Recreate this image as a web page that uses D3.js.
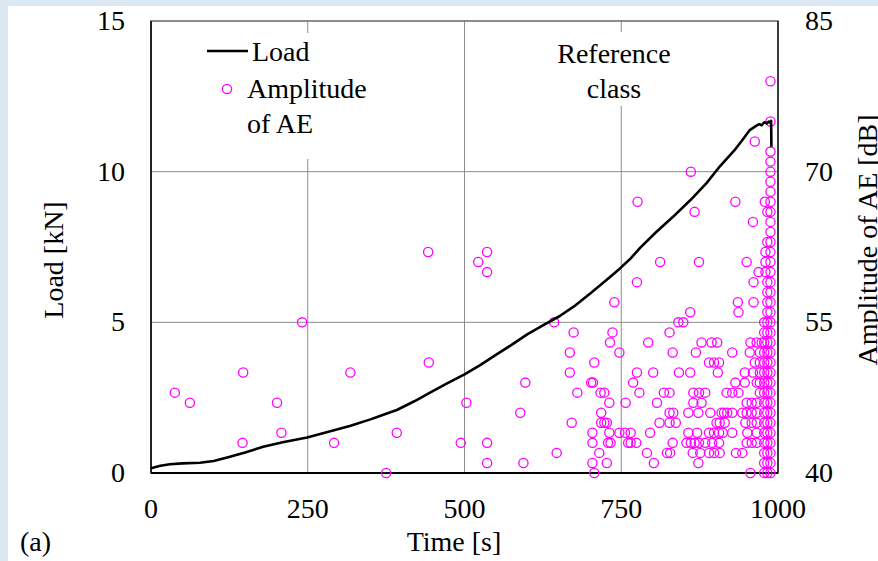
<!DOCTYPE html>
<html lang="en">
<head>
<meta charset="utf-8">
<title>Load and AE amplitude</title>
<script src="https://d3js.org/d3.v7.min.js"></script>
<style>
  body { margin:0; background:#dbe8f4; }
  svg { display:block; }
  text { font-family:"Liberation Serif","Times New Roman",serif; fill:#000; }
</style>
</head>
<body>
<div id="chart"></div>
<script>
// load curve (time [s], load [kN])
var loadTime  = [0, 15, 30, 50, 78, 100, 126, 150, 179, 210, 249, 280, 317, 350, 365, 392, 420, 445, 470, 500,
                 525, 550, 575, 600, 625, 652, 674, 700, 725, 748, 765, 780, 805, 833, 860, 886, 907, 931, 945,
                 955, 965, 970, 974, 978, 982, 985, 988, 989, 989.5];
var loadValue = [0.16, 0.24, 0.29, 0.32, 0.34, 0.40, 0.54, 0.68, 0.87, 1.02, 1.18, 1.35, 1.56, 1.78, 1.89, 2.09, 2.38, 2.67, 2.95, 3.27,
                 3.58, 3.92, 4.25, 4.60, 4.90, 5.21, 5.52, 5.95, 6.38, 6.79, 7.12, 7.47, 7.98, 8.51, 9.05, 9.62, 10.17, 10.72, 11.10,
                 11.38, 11.52, 11.58, 11.54, 11.64, 11.60, 11.66, 11.62, 11.69, 10.83];

// AE hits: amplitude level [dB] and the times [s] of hits at that level
var aeLevels = [79, 75, 73, 72, 71, 70, 69, 68, 67, 66, 65, 64, 63, 62, 61, 60, 59, 58, 57, 56, 55, 54, 53, 52, 51, 50, 49, 48, 47, 46, 45, 44, 43, 42, 41, 40];
var aeTimes = [
  [988], [988], [963], [988], [988], [861, 988], [988], [988],
  [776, 932, 979, 988],
  [867, 983, 988],
  [960, 988],
  [988],
  [983, 988],
  [442, 536, 980, 988],
  [522, 812, 874, 950, 980, 988],
  [536, 969, 980, 988],
  [775, 961, 983, 988],
  [983, 988],
  [739, 936, 961, 983, 988],
  [860, 937, 983, 988],
  [241, 643, 841, 849, 978, 983, 988],
  [674, 736, 827, 978, 983, 988],
  [732, 793, 878, 894, 903, 956, 966, 974, 978, 983, 988],
  [668, 747, 832, 869, 927, 955, 971, 978, 983, 988],
  [443, 707, 890, 898, 906, 963, 971, 978, 983, 988],
  [147, 318, 668, 775, 801, 842, 860, 904, 947, 960, 971, 978, 983, 988],
  [597, 702, 705, 769, 932, 947, 966, 971, 978, 983, 988],
  [38, 680, 717, 723, 779, 818, 827, 865, 874, 884, 918, 927, 937, 971, 978, 983, 988],
  [62, 201, 503, 731, 757, 807, 865, 878, 950, 958, 966, 978, 983, 988],
  [589, 718, 827, 833, 857, 873, 892, 910, 914, 919, 927, 943, 950, 958, 966, 978, 983, 988],
  [671, 718, 723, 727, 811, 827, 837, 902, 907, 915, 948, 958, 966, 978, 983, 988],
  [208, 392, 704, 731, 747, 756, 765, 796, 857, 871, 890, 898, 906, 912, 927, 951, 966, 978, 983, 988],
  [146, 292, 494, 536, 704, 729, 733, 761, 765, 774, 832, 854, 861, 867, 874, 884, 895, 906, 950, 958, 966, 978, 983, 988],
  [647, 715, 791, 823, 828, 864, 876, 890, 898, 907, 933, 943, 978, 983, 988],
  [536, 594, 704, 727, 802, 873, 978, 983, 988],
  [375, 707, 956, 978, 983, 988]
];

var xTicks = [0, 250, 500, 750, 1000];
var loadTicks = [0, 5, 10, 15];
var ampTicks = [40, 55, 70, 85];

var W = 878, H = 561;
var m = {left:151, right:778, top:21, bottom:473};

var svg = d3.select("#chart").append("svg").attr("width", W).attr("height", H);

// white sheet over the blue page
svg.append("rect").attr("x", 8).attr("y", 6).attr("width", W - 8).attr("height", H - 6).attr("fill", "#fff");

var x = d3.scaleLinear().domain([0, 1000]).range([m.left, m.right]);
var yL = d3.scaleLinear().domain([0, 15]).range([m.bottom, m.top]);
var yA = d3.scaleLinear().domain([40, 85]).range([m.bottom, m.top]);

// grid
svg.append("g").selectAll("line").data([250, 500, 750]).enter().append("line")
  .attr("x1", function(d){ return x(d); }).attr("x2", function(d){ return x(d); })
  .attr("y1", m.top).attr("y2", m.bottom)
  .attr("stroke", "#8c8c8c").attr("stroke-width", 1);
svg.append("g").selectAll("line").data([5, 10]).enter().append("line")
  .attr("x1", m.left).attr("x2", m.right)
  .attr("y1", function(d){ return yL(d); }).attr("y2", function(d){ return yL(d); })
  .attr("stroke", "#8c8c8c").attr("stroke-width", 1);

// white boxes behind the legend and the note
svg.append("rect").attr("x", 195).attr("y", 33).attr("width", 195).attr("height", 126).attr("fill", "#fff");
svg.append("rect").attr("x", 548).attr("y", 32).attr("width", 140).attr("height", 74).attr("fill", "#fff");

// frame
svg.append("rect").attr("x", m.left).attr("y", m.top)
  .attr("width", m.right - m.left).attr("height", m.bottom - m.top)
  .attr("fill", "none").attr("stroke", "#666").attr("stroke-width", 1.5);
svg.append("line").attr("x1", m.left).attr("x2", m.left).attr("y1", m.top).attr("y2", m.bottom)
  .attr("stroke", "#222").attr("stroke-width", 2);
svg.append("line").attr("x1", m.left).attr("x2", m.right).attr("y1", m.bottom).attr("y2", m.bottom)
  .attr("stroke", "#000").attr("stroke-width", 2);
svg.append("line").attr("x1", m.right).attr("x2", m.right).attr("y1", m.top).attr("y2", m.bottom)
  .attr("stroke", "#222").attr("stroke-width", 1.5);

// AE scatter
var hits = [];
aeLevels.forEach(function(a, i){
  aeTimes[i].forEach(function(t){ hits.push({t:t, a:a}); });
});
svg.append("g").selectAll("circle").data(hits).enter().append("circle")
  .attr("cx", function(d){ return x(d.t); })
  .attr("cy", function(d){ return yA(d.a); })
  .attr("r", 4.6)
  .attr("fill", "none").attr("stroke", "#ff00ff").attr("stroke-width", 1.3);

// load curve
var loadData = loadTime.map(function(t, i){ return [t, loadValue[i]]; });
svg.append("path").datum(loadData)
  .attr("d", d3.line().x(function(d){ return x(d[0]); }).y(function(d){ return yL(d[1]); }))
  .attr("fill", "none").attr("stroke", "#000").attr("stroke-width", 2.6).attr("stroke-linejoin", "round");

// tick labels
var fs = 28;
svg.append("g").selectAll("text").data(xTicks).enter().append("text")
  .attr("x", function(d){ return x(d); }).attr("y", 518)
  .attr("text-anchor", "middle").attr("font-size", fs).text(function(d){ return d; });
svg.append("g").selectAll("text").data(loadTicks).enter().append("text")
  .attr("x", 125).attr("y", function(d){ return yL(d) + 9; })
  .attr("text-anchor", "end").attr("font-size", fs).text(function(d){ return d; });
svg.append("g").selectAll("text").data(ampTicks).enter().append("text")
  .attr("x", 805).attr("y", function(d){ return yA(d) + 9; })
  .attr("text-anchor", "start").attr("font-size", fs).text(function(d){ return d; });

// axis titles
svg.append("text").attr("x", 454).attr("y", 551).attr("text-anchor", "middle").attr("font-size", fs).text("Time [s]");
svg.append("text").attr("x", 20).attr("y", 551).attr("font-size", fs).text("(a)");
svg.append("text").attr("transform", "translate(63,260) rotate(-90)")
  .attr("text-anchor", "middle").attr("font-size", fs).text("Load [kN]");
svg.append("text").attr("transform", "translate(877,240) rotate(-90)")
  .attr("text-anchor", "middle").attr("font-size", fs).text("Amplitude of AE [dB]");

// legend
svg.append("line").attr("x1", 207).attr("x2", 248).attr("y1", 51).attr("y2", 51)
  .attr("stroke", "#000").attr("stroke-width", 2.6);
svg.append("text").attr("x", 252).attr("y", 61).attr("font-size", fs).text("Load");
svg.append("circle").attr("cx", 227).attr("cy", 89).attr("r", 4.6)
  .attr("fill", "none").attr("stroke", "#ff00ff").attr("stroke-width", 1.3);
svg.append("text").attr("x", 247).attr("y", 98).attr("font-size", fs).text("Amplitude");
svg.append("text").attr("x", 247).attr("y", 133).attr("font-size", fs).text("of AE");

// note
svg.append("text").attr("x", 614).attr("y", 63).attr("text-anchor", "middle").attr("font-size", fs).text("Reference");
svg.append("text").attr("x", 614).attr("y", 98).attr("text-anchor", "middle").attr("font-size", fs).text("class");
</script>
</body>
</html>
